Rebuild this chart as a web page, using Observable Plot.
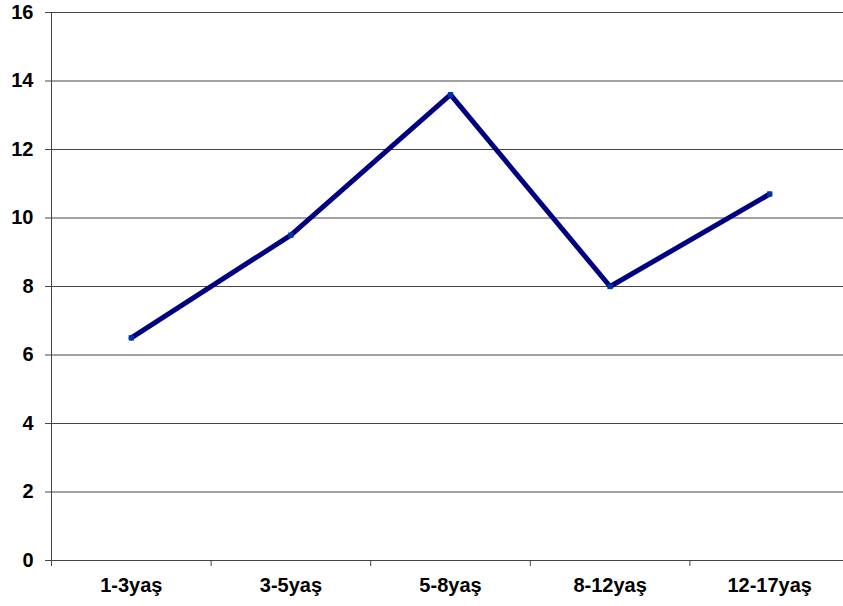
<!DOCTYPE html>
<html>
<head>
<meta charset="utf-8">
<script src="https://cdn.jsdelivr.net/npm/d3@7"></script>
<script src="https://cdn.jsdelivr.net/npm/@observablehq/plot@0.6"></script>
<style>
  html, body { margin: 0; padding: 0; overflow: hidden; background: #fff; }
  #chart svg { max-width: none !important; height: 606px !important; }
</style>
</head>
<body>
<div id="chart"></div>
<script>
// Age groups and their values
const ageGroups = ["1-3yaş", "3-5yaş", "5-8yaş", "8-12yaş", "12-17yaş"];
const values = [6.5, 9.5, 13.6, 8.0, 10.7];
const yTicks = [0, 2, 4, 6, 8, 10, 12, 14, 16];

// Each group sits in a slot of unit width centred on its index
const rows = ageGroups.map((group, i) => ({i, group, value: values[i]}));
const slots = ageGroups.map((_, i) => i);
const boundaries = [-0.5, ...slots.map(i => i + 0.5)];

const chart = Plot.plot({
  width: 849,
  height: 606,
  marginLeft: 51,
  marginRight: 0,
  marginTop: 12,
  marginBottom: 46,
  style: {
    fontFamily: '"Liberation Sans", Arial, sans-serif',
    fontSize: "20px",
    fontWeight: "bold",
    color: "#000",
    background: "#fff",
    maxWidth: "none"
  },
  x: {type: "linear", domain: [-0.5, ageGroups.length - 0.5]},
  y: {domain: [0, 16]},
  marks: [
    Plot.gridY(yTicks, {stroke: "#444", strokeOpacity: 1}),
    Plot.ruleX([-0.5], {stroke: "#444"}),
    Plot.axisY(yTicks, {tickSize: 6, tickPadding: 12, stroke: "#444", label: null, fontSize: 20}),
    Plot.axisX(boundaries, {tickSize: 6, tickFormat: () => "", stroke: "#444", label: null}),
    Plot.axisX(slots, {tickSize: 0, tickPadding: 17, tickFormat: i => ageGroups[i], label: null, fontSize: 20}),
    Plot.line(rows, {x: "i", y: "value", stroke: "#000080", strokeWidth: 5}),
    Plot.dot(rows, {x: "i", y: "value", symbol: "square", r: 3, fill: "#0033aa"})
  ]
});

document.getElementById("chart").appendChild(chart);
</script>
</body>
</html>
